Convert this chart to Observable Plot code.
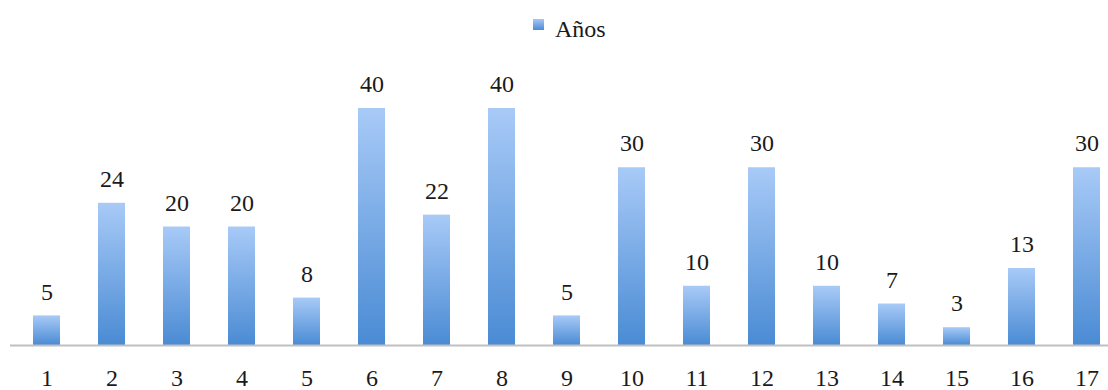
<!DOCTYPE html>
<html>
<head>
<meta charset="utf-8">
<script src="https://cdn.jsdelivr.net/npm/d3@7"></script>
<script src="https://cdn.jsdelivr.net/npm/@observablehq/plot@0.6"></script>
<style>
  body { margin: 0; background: #fff; font-family: "Liberation Serif", "DejaVu Serif", serif; }
  #legend { position: relative; width: 1108px; height: 50px; }
  #legend .swatch { position: absolute; left: 533px; top: 19px; width: 11px; height: 11px;
    background: linear-gradient(#a6c8f6, #4a8bd4); }
  #legend .label { position: absolute; left: 555px; top: 17px; font-size: 24px; line-height: 24px; color: #1a1a1a;
    font-family: "Liberation Serif", "DejaVu Serif", serif; }
  #chart svg { overflow: hidden; }
  #chart svg text { font-family: "Liberation Serif", "DejaVu Serif", serif; }
</style>
</head>
<body>
<div id="legend"><span class="swatch"></span><span class="label">Años</span></div>
<div id="chart"></div>
<script>
// Category labels along the x axis
const categories = ["1","2","3","4","5","6","7","8","9","10","11","12","13","14","15","16","17"];
// Years per category
const years = [5, 24, 20, 20, 8, 40, 22, 40, 5, 30, 10, 30, 10, 7, 3, 13, 30];

const data = categories.map((c, i) => ({category: c, value: years[i]}));

const chart = Plot.plot({
  width: 1108,
  height: 340,
  marginTop: 58,
  marginBottom: 45,
  marginLeft: 10,
  marginRight: 0,
  style: {fontFamily: "'Liberation Serif', 'DejaVu Serif', serif", fontSize: "24px", color: "#1a1a1a", background: "white"},
  x: {domain: categories, range: [11, 1121], paddingInner: 0.587, paddingOuter: 0.2935},
  y: {domain: [0, 40], axis: null},
  marks: [
    Plot.barY(data, {x: "category", y: "value", fill: "url(#barGradient)"}),
    Plot.ruleY([0], {stroke: "#c0c0c0", strokeWidth: 2}),
    Plot.text(data, {x: "category", y: "value", text: d => String(d.value), dy: -24, lineAnchor: "middle", fill: "#1a1a1a"}),
    Plot.axisX({tickSize: 0, tickPadding: 33, lineAnchor: "middle", fill: "#1a1a1a", label: null})
  ]
});

// Vertical gradient used by every bar: light blue on top, deeper blue at the base
const svg = d3.select(chart);
const grad = svg.insert("defs", ":first-child")
  .append("linearGradient")
  .attr("id", "barGradient")
  .attr("x1", 0).attr("y1", 0).attr("x2", 0).attr("y2", 1);
grad.append("stop").attr("offset", "0%").attr("stop-color", "#a8caf7");
grad.append("stop").attr("offset", "100%").attr("stop-color", "#4a8bd4");

document.getElementById("chart").appendChild(chart);
</script>
</body>
</html>
